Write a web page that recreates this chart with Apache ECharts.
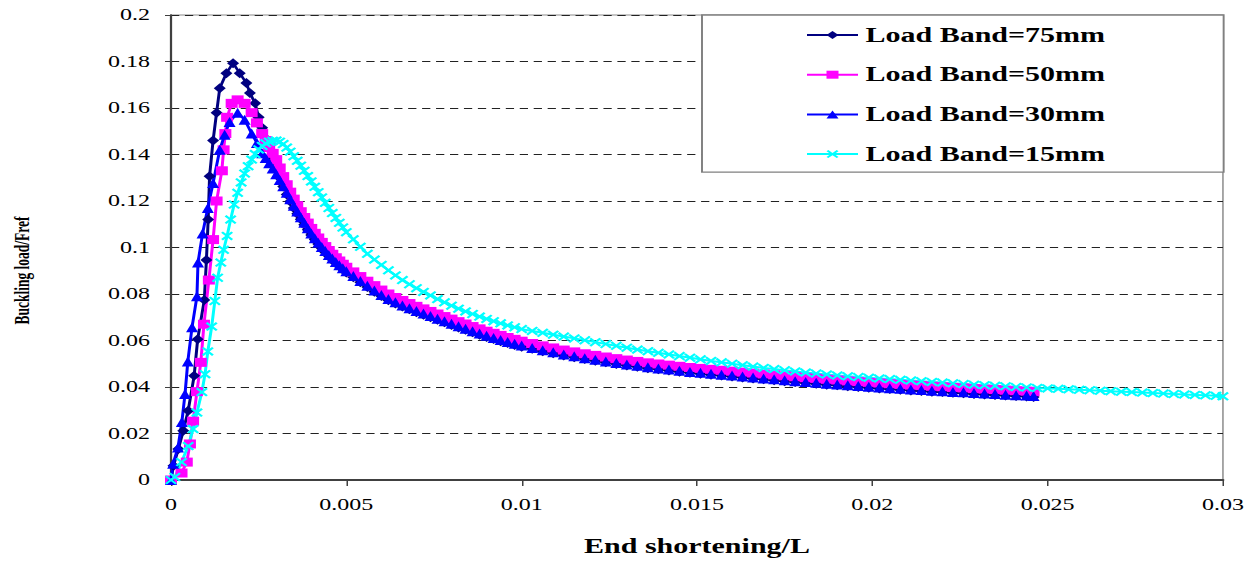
<!DOCTYPE html>
<html>
<head>
<meta charset="utf-8">
<script src="https://cdn.jsdelivr.net/npm/echarts@6.0.0/dist/echarts.min.js"></script>
<style>
  html, body { margin: 0; padding: 0; background: #fff; overflow: hidden; }
  /* the original picture is stretched sideways, so the chart is drawn narrow and widened */
  #chart { width: 838px; height: 561px; transform: scaleX(1.5); transform-origin: 0 0; }
</style>
</head>
<body>
<div id="chart"></div>
<script>
// shared x samples of the post-peak branch (end shortening / L)
const xTailA = [0.0026, 0.0027, 0.0028, 0.0029, 0.0030, 0.0031, 0.0032, 0.0033, 0.0034, 0.0035, 0.0036, 0.0037, 0.0038, 0.0039, 0.0040, 0.0041, 0.0042, 0.0043, 0.0044, 0.0045, 0.0046, 0.0047, 0.0048, 0.0049, 0.0050];
const xTailB = [0.0052, 0.0054, 0.0056, 0.0058, 0.0060, 0.0062, 0.0064, 0.0066, 0.0068, 0.0070, 0.0072, 0.0074, 0.0076, 0.0078, 0.0080, 0.0082, 0.0084, 0.0086, 0.0088, 0.0090, 0.0092, 0.0094, 0.0096, 0.0098, 0.0100];
const xTailC = [0.0103, 0.0106, 0.0109, 0.0112, 0.0115, 0.0118, 0.0121, 0.0124, 0.0127, 0.0130, 0.0133, 0.0136, 0.0139, 0.0142, 0.0145, 0.0148, 0.0151, 0.0154, 0.0157, 0.0160, 0.0163, 0.0166, 0.0169, 0.0172, 0.0175, 0.0178, 0.0181, 0.0184, 0.0187, 0.0190, 0.0193, 0.0196, 0.0199, 0.0202, 0.0205, 0.0208, 0.0211, 0.0214, 0.0217, 0.0220, 0.0223, 0.0226, 0.0229, 0.0232, 0.0235, 0.0238, 0.0241, 0.0244];
const xEnd = [0.0246];
const xTailD = [0.0247, 0.0250, 0.0253, 0.0256, 0.0259, 0.0262, 0.0265, 0.0268, 0.0271, 0.0274, 0.0277, 0.0280, 0.0283, 0.0286, 0.0289, 0.0292, 0.0295, 0.0298, 0.0300];

// Load Band=75mm
const x75Rise = [0, 0.00007, 0.00021, 0.00035, 0.00049, 0.00066, 0.00076, 0.00095, 0.00101, 0.00106, 0.0011, 0.0012, 0.0013, 0.00139, 0.00158, 0.00177, 0.00196, 0.00215, 0.00225, 0.0024, 0.0025];
const y75Rise = [0, 0.0061, 0.0133, 0.0212, 0.0298, 0.0448, 0.0605, 0.0774, 0.0946, 0.112, 0.1306, 0.146, 0.158, 0.1685, 0.175, 0.1793, 0.175, 0.1707, 0.1665, 0.162, 0.156];
const y75A = [0.1515, 0.1470, 0.1425, 0.1382, 0.1340, 0.1300, 0.1262, 0.1228, 0.1198, 0.1170, 0.1145, 0.1121, 0.1098, 0.1076, 0.1054, 0.1034, 0.1015, 0.0997, 0.0980, 0.0963, 0.0948, 0.0933, 0.0919, 0.0906, 0.0893];
const y75B = [0.0872, 0.0851, 0.0830, 0.0810, 0.0791, 0.0773, 0.0759, 0.0746, 0.0734, 0.0722, 0.0711, 0.0700, 0.0689, 0.0678, 0.0667, 0.0656, 0.0646, 0.0635, 0.0625, 0.0615, 0.0606, 0.0597, 0.0589, 0.0581, 0.0573];
const y75C = [0.0564, 0.0554, 0.0545, 0.0536, 0.0528, 0.0520, 0.0513, 0.0506, 0.0499, 0.0493, 0.0487, 0.0481, 0.0476, 0.0471, 0.0466, 0.0461, 0.0457, 0.0453, 0.0449, 0.0445, 0.0441, 0.0437, 0.0433, 0.0429, 0.0425, 0.0421, 0.0417, 0.0414, 0.0410, 0.0407, 0.0403, 0.0400, 0.0397, 0.0394, 0.0391, 0.0388, 0.0385, 0.0383, 0.0380, 0.0378, 0.0375, 0.0373, 0.0370, 0.0368, 0.0366, 0.0363, 0.0361, 0.0359];
const y75End = [0.0357];

// Load Band=50mm
const x50Rise = [0, 0.0003, 0.00045, 0.00054, 0.00063, 0.00074, 0.00085, 0.00094, 0.00108, 0.0012, 0.0013, 0.00145, 0.0015, 0.00155, 0.0016, 0.00173, 0.0019, 0.0021, 0.0023, 0.00245];
const y50Rise = [0, 0.003, 0.0077, 0.0155, 0.0253, 0.038, 0.0506, 0.067, 0.086, 0.1034, 0.12, 0.133, 0.142, 0.149, 0.156, 0.162, 0.1635, 0.162, 0.158, 0.1536];
const y50A = [0.1490, 0.1460, 0.1430, 0.1405, 0.1378, 0.1342, 0.1305, 0.1270, 0.1238, 0.1208, 0.1180, 0.1154, 0.1129, 0.1105, 0.1082, 0.1061, 0.1041, 0.1022, 0.1004, 0.0987, 0.0971, 0.0956, 0.0942, 0.0928, 0.0915];
const y50B = [0.0895, 0.0875, 0.0855, 0.0836, 0.0817, 0.0800, 0.0785, 0.0772, 0.0759, 0.0747, 0.0736, 0.0725, 0.0714, 0.0703, 0.0692, 0.0681, 0.0671, 0.0660, 0.0650, 0.0640, 0.0631, 0.0622, 0.0613, 0.0605, 0.0597];
const y50C = [0.0587, 0.0577, 0.0568, 0.0559, 0.0551, 0.0543, 0.0536, 0.0529, 0.0522, 0.0516, 0.0510, 0.0504, 0.0499, 0.0494, 0.0489, 0.0484, 0.0480, 0.0476, 0.0472, 0.0468, 0.0464, 0.0460, 0.0456, 0.0452, 0.0448, 0.0444, 0.0440, 0.0437, 0.0433, 0.0430, 0.0426, 0.0423, 0.0420, 0.0417, 0.0414, 0.0411, 0.0408, 0.0406, 0.0403, 0.0401, 0.0398, 0.0396, 0.0393, 0.0391, 0.0389, 0.0386, 0.0384, 0.0382];
const y50End = [0.0380];

// Load Band=30mm
const x30Rise = [0, 0.00006, 0.0002, 0.00031, 0.0004, 0.00048, 0.0006, 0.00074, 0.00077, 0.0009, 0.00105, 0.0012, 0.00139, 0.00153, 0.00167, 0.0019, 0.0021, 0.0023, 0.00245];
const y30Rise = [0, 0.007, 0.014, 0.025, 0.037, 0.051, 0.0657, 0.079, 0.0935, 0.106, 0.117, 0.1277, 0.142, 0.1485, 0.154, 0.158, 0.155, 0.149, 0.145];
const y30A = [0.1405, 0.1385, 0.1362, 0.1340, 0.1315, 0.1290, 0.1263, 0.1235, 0.1207, 0.1180, 0.1155, 0.1130, 0.1106, 0.1083, 0.1060, 0.1040, 0.1020, 0.1002, 0.0985, 0.0968, 0.0953, 0.0938, 0.0924, 0.0911, 0.0898];
const y30B = [0.0877, 0.0856, 0.0835, 0.0815, 0.0796, 0.0778, 0.0764, 0.0751, 0.0739, 0.0727, 0.0716, 0.0705, 0.0694, 0.0683, 0.0672, 0.0661, 0.0651, 0.0640, 0.0630, 0.0620, 0.0611, 0.0602, 0.0594, 0.0586, 0.0578];
const y30C = [0.0568, 0.0558, 0.0549, 0.0540, 0.0532, 0.0524, 0.0517, 0.0510, 0.0503, 0.0497, 0.0491, 0.0485, 0.0480, 0.0475, 0.0470, 0.0465, 0.0461, 0.0457, 0.0453, 0.0449, 0.0445, 0.0441, 0.0437, 0.0433, 0.0429, 0.0425, 0.0421, 0.0418, 0.0414, 0.0411, 0.0407, 0.0404, 0.0401, 0.0398, 0.0395, 0.0392, 0.0389, 0.0387, 0.0384, 0.0382, 0.0379, 0.0377, 0.0374, 0.0372, 0.0370, 0.0367, 0.0365, 0.0363];
const y30End = [0.0361];

// Load Band=15mm
const x15Rise = [0, 0.00011, 0.0003, 0.00049, 0.00063, 0.00074, 0.00088, 0.00097, 0.00105, 0.00116, 0.00125, 0.00133, 0.00142, 0.0015, 0.0016, 0.0017, 0.0018, 0.0019, 0.0020, 0.0021, 0.0022, 0.0023, 0.0024, 0.0025];
const y15Rise = [0, 0.0013, 0.0077, 0.0146, 0.0219, 0.029, 0.0378, 0.0455, 0.0553, 0.066, 0.077, 0.087, 0.0935, 0.099, 0.105, 0.112, 0.1185, 0.1235, 0.128, 0.1318, 0.135, 0.1378, 0.1402, 0.1422];
const y15A = [0.1437, 0.1448, 0.1455, 0.1459, 0.1460, 0.1455, 0.1445, 0.1430, 0.1412, 0.1393, 0.1373, 0.1352, 0.1330, 0.1307, 0.1284, 0.1261, 0.1238, 0.1215, 0.1192, 0.1170, 0.1148, 0.1127, 0.1106, 0.1086, 0.1066];
const y15B = [0.1035, 0.1003, 0.0973, 0.0948, 0.0925, 0.0902, 0.0880, 0.0860, 0.0842, 0.0825, 0.0809, 0.0794, 0.0778, 0.0764, 0.0750, 0.0737, 0.0725, 0.0714, 0.0703, 0.0693, 0.0683, 0.0674, 0.0665, 0.0657, 0.0649];
const y15C = [0.0641, 0.0633, 0.0625, 0.0617, 0.0609, 0.0601, 0.0593, 0.0585, 0.0577, 0.0569, 0.0561, 0.0554, 0.0547, 0.0540, 0.0533, 0.0526, 0.0519, 0.0512, 0.0506, 0.0500, 0.0494, 0.0488, 0.0482, 0.0477, 0.0472, 0.0467, 0.0462, 0.0458, 0.0454, 0.0450, 0.0446, 0.0443, 0.0440, 0.0437, 0.0434, 0.0431, 0.0428, 0.0425, 0.0422, 0.0419, 0.0416, 0.0413, 0.0410, 0.0408, 0.0405, 0.0403, 0.0400, 0.0398];
const y15D = [0.0396, 0.0394, 0.0392, 0.0390, 0.0388, 0.0386, 0.0384, 0.0382, 0.0380, 0.0378, 0.0376, 0.0374, 0.0372, 0.0370, 0.0368, 0.0366, 0.0364, 0.0362, 0.0360];

const seriesNames = ["Load Band=75mm", "Load Band=50mm", "Load Band=30mm", "Load Band=15mm"];

// pair up x and y lists, complain loudly if they do not line up
function zip(xs, ys, label) {
  if (xs.length !== ys.length) throw new Error(label + ": " + xs.length + " x vs " + ys.length + " y");
  return xs.map((x, i) => [x, ys[i]]);
}

const data75 = zip(x75Rise.concat(xTailA, xTailB, xTailC, xEnd), y75Rise.concat(y75A, y75B, y75C, y75End), "75");
const data50 = zip(x50Rise.concat(xTailA, xTailB, xTailC, xEnd), y50Rise.concat(y50A, y50B, y50C, y50End), "50");
const data30 = zip(x30Rise.concat(xTailA, xTailB, xTailC, xEnd), y30Rise.concat(y30A, y30B, y30C, y30End), "30");
const data15 = zip(x15Rise.concat(xTailA, xTailB, xTailC, xTailD), y15Rise.concat(y15A, y15B, y15C, y15D), "15");

const FONT = "'Liberation Serif', 'Times New Roman', serif";
const CROSS = "path://M0,1.5L1.5,0L5,3.5L8.5,0L10,1.5L6.5,5L10,8.5L8.5,10L5,6.5L1.5,10L0,8.5L3.5,5Z";

function lineSeries(name, data, color, symbol, size) {
  return {
    name: name,
    type: "line",
    data: data,
    symbol: symbol,
    symbolSize: size,
    showSymbol: true,
    itemStyle: { color: color },
    lineStyle: { color: color, width: 2 },
    emphasis: { disabled: true },
    animation: false,
  };
}

const chart = echarts.init(document.getElementById("chart"), null, { renderer: "svg" });
chart.setOption({
  backgroundColor: "#ffffff",
  animation: false,
  grid: {
    left: 110.7,
    right: 22.7,
    top: 15,
    bottom: 80,
    show: true,
    borderColor: "#8c8c8c",
    borderWidth: 1,
  },
  legend: {
    orient: "vertical",
    left: 468,
    top: 15,
    padding: [10, 79, 8, 69],
    itemWidth: 34,
    itemHeight: 10,
    itemGap: 19.7,
    borderColor: "#808080",
    borderWidth: 1.3,
    backgroundColor: "#ffffff",
    selectedMode: false,
    data: seriesNames,
    textStyle: { fontFamily: FONT, fontSize: 20, fontWeight: "bold", color: "#000", lineHeight: 20 },
  },
  xAxis: {
    type: "value",
    min: 0,
    max: 0.03,
    interval: 0.005,
    name: "End shortening/L",
    nameLocation: "middle",
    nameGap: 56,
    nameTextStyle: { fontFamily: FONT, fontSize: 20, fontWeight: "bold", color: "#000" },
    axisLine: { lineStyle: { color: "#404040", width: 2 } },
    axisTick: { length: 6, lineStyle: { color: "#404040", width: 1 } },
    axisLabel: {
      margin: 17,
      fontFamily: FONT,
      fontSize: 16,
      color: "#000",
      formatter: (v) => String(+v.toFixed(3)),
    },
    splitLine: { show: false },
  },
  yAxis: {
    type: "value",
    min: 0,
    max: 0.2,
    interval: 0.02,
    name: "Buckling load/Fref",
    nameLocation: "middle",
    nameRotate: 90,
    nameGap: 92,
    nameTextStyle: { fontFamily: FONT, fontSize: 13.5, fontWeight: "bold", color: "#000", padding: [0, 46, 0, 0] },
    axisLine: { show: true, lineStyle: { color: "#404040", width: 1.5 } },
    axisTick: { show: true, length: 4, lineStyle: { color: "#404040", width: 1 } },
    axisLabel: {
      margin: 14,
      fontFamily: FONT,
      fontSize: 16,
      color: "#000",
      formatter: (v) => String(+v.toFixed(2)),
    },
    splitLine: { show: true, lineStyle: { color: "#222", width: 1, type: [5.5, 3.8] } },
  },
  series: [
    lineSeries(seriesNames[0], data75, "#000080", "diamond", [8, 10]),
    lineSeries(seriesNames[1], data50, "#ff00ff", "rect", [8, 9]),
    lineSeries(seriesNames[2], data30, "#0000ff", "triangle", [8, 10]),
    lineSeries(seriesNames[3], data15, "#00ffff", CROSS, [8, 9]),
  ],
});
</script>
</body>
</html>
